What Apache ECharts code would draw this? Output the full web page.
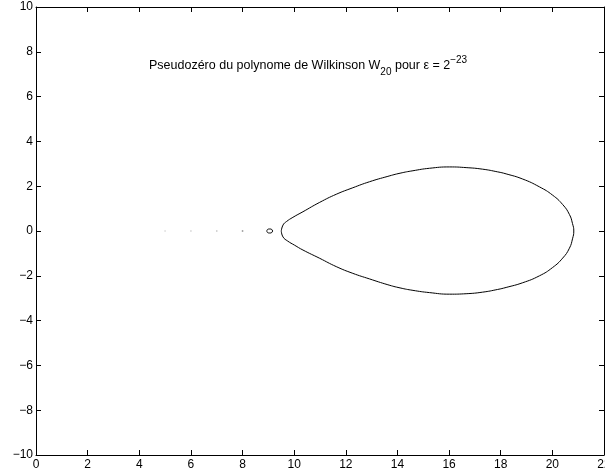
<!DOCTYPE html>
<html>
<head>
<meta charset="utf-8">
<script src="https://cdn.jsdelivr.net/npm/echarts@6/dist/echarts.min.js"></script>
<style>
  html, body { margin: 0; padding: 0; background: #fff; }
  #chart { width: 605px; height: 475px; }
</style>
</head>
<body>
<div id="chart"></div>
<script>
// Axis ranges and tick spacing
const xRange = [0, 22];
const yRange = [-10, 10];
const tickStep = 2;

// Upper edge of the main pseudozero region, from the left tip to the right tip
const upperEdge = [
  [9.50, 0], [9.57, 0.27], [9.70, 0.42], [9.95, 0.61], [10.34, 0.86],
  [10.99, 1.28], [11.63, 1.64], [12.27, 1.93], [12.92, 2.20], [13.63, 2.44],
  [14.10, 2.58], [14.60, 2.69], [15.24, 2.80], [16.02, 2.86], [16.66, 2.83],
  [17.30, 2.76], [17.88, 2.64], [18.21, 2.55], [18.85, 2.32], [19.50, 1.97],
  [20.01, 1.60], [20.40, 1.18], [20.66, 0.74], [20.78, 0.33], [20.83, 0]
];

// Lower edge of the main pseudozero region, from the left tip to the right tip
const lowerEdge = [
  [9.50, 0], [9.57, -0.27], [9.75, -0.45], [10.01, -0.63], [10.34, -0.85],
  [10.99, -1.22], [11.63, -1.59], [12.27, -1.89], [12.92, -2.14], [13.63, -2.40],
  [14.10, -2.54], [14.60, -2.65], [15.24, -2.75], [16.02, -2.82], [16.66, -2.80],
  [17.30, -2.73], [17.88, -2.61], [18.21, -2.52], [18.85, -2.31], [19.50, -2.00],
  [20.01, -1.63], [20.40, -1.21], [20.66, -0.77], [20.78, -0.35], [20.83, 0]
];

// Small isolated region near x = 9
const smallLoop = [
  [8.94, 0], [8.97, 0.07], [9.05, 0.09], [9.13, 0.07], [9.16, 0],
  [9.13, -0.07], [9.05, -0.09], [8.97, -0.07], [8.94, 0]
];

// Tiny specks around the roots 5, 6, 7 and 8
const specks = [[5, 0], [6, 0], [7, 0], [8, 0]];
const speckShades = ['#d0d0d0', '#c8c8c8', '#b8b8b8', '#707070'];

// Closed outline: along the upper edge, then back along the lower edge
const mainOutline = upperEdge.concat(lowerEdge.slice(0, -1).reverse());

const FONT = '"Liberation Sans", Arial, Helvetica, sans-serif';
const minus = v => String(v).replace('-', '\u2212');

const frameLine = { show: true, onZero: false, lineStyle: { color: '#000', width: 1 } };
const innerTick = { show: true, inside: true, length: 5, lineStyle: { color: '#000', width: 1 } };

function xAxisDef(pos, labels) {
  return {
    type: 'value', position: pos, min: xRange[0], max: xRange[1], interval: tickStep,
    axisLine: frameLine, axisTick: innerTick, splitLine: { show: false },
    axisLabel: {
      show: labels, color: '#000', fontSize: 12, fontFamily: FONT, margin: 4,
      showMinLabel: true, showMaxLabel: true, hideOverlap: false, formatter: minus
    }
  };
}
function yAxisDef(pos, labels) {
  return {
    type: 'value', position: pos, min: yRange[0], max: yRange[1], interval: tickStep,
    axisLine: frameLine, axisTick: innerTick, splitLine: { show: false },
    axisLabel: {
      show: labels, color: '#000', fontSize: 12, fontFamily: FONT, margin: 3,
      showMinLabel: true, showMaxLabel: true, hideOverlap: false, formatter: minus
    }
  };
}

const chart = echarts.init(document.getElementById('chart'), null, { renderer: 'canvas' });
chart.setOption({
  animation: false,
  backgroundColor: '#fff',
  grid: { left: 36, right: 1, top: 7, bottom: 20, containLabel: false, outerBoundsMode: 'none' },
  xAxis: [xAxisDef('bottom', true), xAxisDef('top', false)],
  yAxis: [yAxisDef('left', true), yAxisDef('right', false)],
  graphic: [{
    type: 'text',
    left: 149,
    top: 55,
    style: {
      text: '{a|Pseudozéro du polynome de Wilkinson W}{sub|20}{a| pour ε = 2}{sup|\u221223}',
      rich: {
        a: { fontSize: 12.5, fontFamily: FONT, fill: '#000', lineHeight: 22 },
        sub: { fontSize: 10, fontFamily: FONT, fill: '#000', lineHeight: 10, verticalAlign: 'bottom' },
        sup: { fontSize: 10, fontFamily: FONT, fill: '#000', lineHeight: 10, verticalAlign: 'top' }
      }
    }
  }],
  series: [
    {
      type: 'line', data: mainOutline, smooth: 0.5, showSymbol: false,
      lineStyle: { color: '#000', width: 1 }, silent: true
    },
    {
      type: 'line', data: smallLoop, smooth: 0.5, showSymbol: false,
      lineStyle: { color: '#000', width: 1 }, silent: true
    },
    {
      type: 'scatter', symbol: 'rect', symbolSize: 1.5, silent: true,
      data: specks.map((p, i) => ({ value: p, itemStyle: { color: speckShades[i] } }))
    }
  ]
});
</script>
</body>
</html>
